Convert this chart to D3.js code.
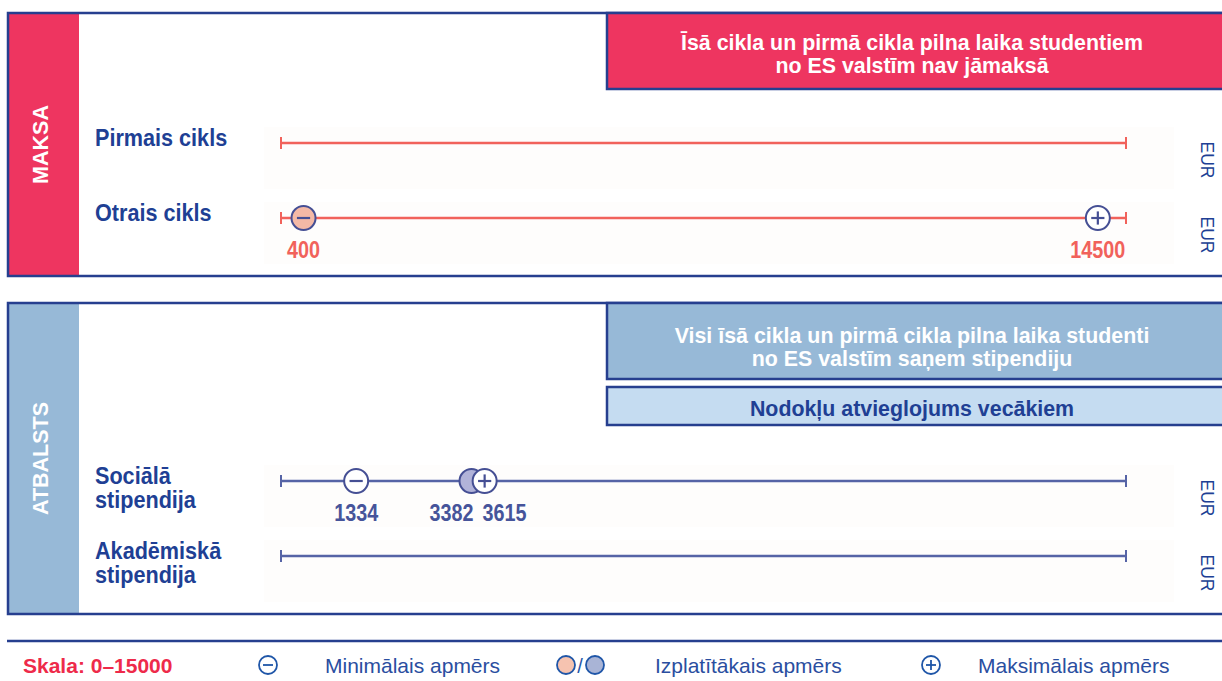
<!DOCTYPE html>
<html>
<head>
<meta charset="utf-8">
<script src="https://cdn.jsdelivr.net/npm/d3@7"></script>
<style>
    body { margin: 0; background: #fff; }
    svg { display: block; }
    .narrow { font-family: "Liberation Sans Narrow", "Arial Narrow", sans-serif; font-weight: bold; }
    .plain { font-family: "Liberation Sans", Arial, sans-serif; }
</style>
</head>
<body>
<div id="chart"></div>
<script>
/* * * * * * * * * * * * * *
*      Fees & support      *
* * * * * * * * * * * * * */

// scale of every row
const scaleDomain = [0, 15000];

// fees panel
const feeRows = ["Pirmais cikls", "Otrais cikls"];
const feeMin = [null, 400];
const feeCommon = [null, null];
const feeMax = [null, 14500];
const feeNotes = ["Īsā cikla un pirmā cikla pilna laika studentiem", "no ES valstīm nav jāmaksā"];

// support panel
const supportRows = [["Sociālā", "stipendija"], ["Akadēmiskā", "stipendija"]];
const supportMin = [1334, null];
const supportCommon = [3382, null];
const supportMax = [3615, null];
const supportNotes = ["Visi īsā cikla un pirmā cikla pilna laika studenti", "no ES valstīm saņem stipendiju"];
const taxNote = "Nodokļu atvieglojums vecākiem";

// legend
const legendItems = ["Minimālais apmērs", "Izplatītākais apmērs", "Maksimālais apmērs"];
const scaleLabel = "Skala: 0–15000";
const unit = "EUR";

const W = 1222, H = 681;
const navy = "#263f8f", textBlue = "#203f94";
const pink = "#ee3560", lightBlue = "#97b9d7", paleBlue = "#c5dcf1";
const feeLine = "#f1625b", supLine = "#5664a6", ringCol = "#454f94";

const svg = d3.select("#chart").append("svg")
    .attr("width", W)
    .attr("height", H);

const x = d3.scaleLinear().domain(scaleDomain).range([281, 1126]);

// condensed bold text (squeezed a bit horizontally)
function narrowText(g, tx, ty, txt, size, color, anchor, sx) {
    return g.append("text")
        .attr("class", "narrow")
        .attr("transform", `translate(${tx}, ${ty}) scale(${sx || 0.94}, 1)`)
        .attr("text-anchor", anchor || "start")
        .attr("font-size", size)
        .attr("fill", color)
        .text(txt);
}

// draws a marker circle with minus / plus sign
function marker(g, cx, cy, kind, fill, r) {
    r = r || 12;
    g.append("circle")
        .attr("cx", cx).attr("cy", cy).attr("r", r)
        .attr("fill", fill)
        .attr("stroke", ringCol)
        .attr("stroke-width", 2);
    if (kind === "min" || kind === "max") {
        g.append("line")
            .attr("x1", cx - r * 0.55).attr("x2", cx + r * 0.55)
            .attr("y1", cy).attr("y2", cy)
            .attr("stroke", ringCol).attr("stroke-width", 2.2);
    }
    if (kind === "max") {
        g.append("line")
            .attr("x1", cx).attr("x2", cx)
            .attr("y1", cy - r * 0.55).attr("y2", cy + r * 0.55)
            .attr("stroke", ringCol).attr("stroke-width", 2.2);
    }
}

function drawRow(g, y, color, minV, comV, maxV, numColor, minFill) {
    // faint row background
    g.append("rect")
        .attr("x", 264).attr("y", y - 16)
        .attr("width", 910).attr("height", 62)
        .attr("fill", "#fefdfc");

    g.append("line")
        .attr("x1", x(scaleDomain[0])).attr("x2", x(scaleDomain[1]))
        .attr("y1", y).attr("y2", y)
        .attr("stroke", color).attr("stroke-width", 2.5);
    scaleDomain.forEach(v => {
        g.append("line")
            .attr("x1", x(v)).attr("x2", x(v))
            .attr("y1", y - 6).attr("y2", y + 6)
            .attr("stroke", color).attr("stroke-width", 2);
    });

    if (comV != null) marker(g, x(comV), y, "common", "#b1b3d9");
    if (minV != null) marker(g, x(minV), y, "min", minFill);
    if (maxV != null) marker(g, x(maxV), y, "max", "#ffffff");

    // value labels, pushed apart when they would collide
    let labs = [minV, comV, maxV].filter(v => v != null)
        .sort((a, b) => a - b)
        .map(v => ({v: v, px: x(v), w: String(v).length * 11}));
    for (let i = 1; i < labs.length; i++) {
        let a = labs[i - 1], b = labs[i];
        let need = (a.w + b.w) / 2 + 9;
        if (b.px - a.px < need) {
            let mid = (a.px + b.px) / 2;
            a.px = mid - need / 2;
            b.px = mid + need / 2;
        }
    }
    labs.forEach(d => {
        narrowText(g, d.px, y + 40, d.v, 23, numColor, "middle", 0.86);
    });

    g.append("text")
        .attr("class", "plain")
        .attr("transform", `translate(1201, ${y + 17}) rotate(90)`)
        .attr("text-anchor", "middle")
        .attr("font-size", 17.5)
        .attr("fill", textBlue)
        .text(unit);
}

function panel(y0, h, sideColor, sideText) {
    let g = svg.append("g");
    g.append("rect")
        .attr("x", 8).attr("y", y0)
        .attr("width", 71).attr("height", h)
        .attr("fill", sideColor);
    g.append("rect")
        .attr("x", 8).attr("y", y0)
        .attr("width", 1222).attr("height", h)
        .attr("fill", "none")
        .attr("stroke", navy).attr("stroke-width", 2.5);
    g.append("text")
        .attr("class", "plain")
        .attr("transform", `translate(${48}, ${y0 + h / 2}) rotate(-90)`)
        .attr("text-anchor", "middle")
        .attr("font-size", 21.5)
        .attr("font-weight", "bold")
        .attr("fill", "#ffffff")
        .text(sideText);
    return g;
}

function noteBox(g, y0, h, fill, lines, color, baseY) {
    g.append("rect")
        .attr("x", 607).attr("y", y0)
        .attr("width", 620).attr("height", h)
        .attr("fill", fill)
        .attr("stroke", navy).attr("stroke-width", 2.5);
    lines.forEach((t, i) => {
        narrowText(g, 912, baseY + i * 23, t, 23, color, "middle", 0.93);
    });
}

// ---- fees panel
let feeG = panel(13, 263, pink, "MAKSA");
noteBox(feeG, 13, 76, pink, feeNotes, "#ffffff", 50);
let feeY = [143, 218];
feeRows.forEach((r, i) => {
    narrowText(feeG, 95, feeY[i] + 3, r, 23, textBlue);
    drawRow(feeG, feeY[i], feeLine, feeMin[i], feeCommon[i], feeMax[i], "#f1625b", "#f4b9a6");
});

// ---- support panel
let supG = panel(303, 311, lightBlue, "ATBALSTS");
noteBox(supG, 303, 76, lightBlue, supportNotes, "#ffffff", 343);
noteBox(supG, 387, 38, paleBlue, [taxNote], textBlue, 416);
let supY = [481, 556];
supportRows.forEach((r, i) => {
    drawRow(supG, supY[i], supLine, supportMin[i], supportCommon[i], supportMax[i], "#46549a", "#ffffff");
    r.forEach((t, j) => {
        narrowText(supG, 95, supY[i] + 3 + j * 24, t, 23, textBlue);
    });
});

// ---- legend
let leg = svg.append("g");
leg.append("line")
    .attr("x1", 7).attr("x2", W)
    .attr("y1", 641).attr("y2", 641)
    .attr("stroke", navy).attr("stroke-width", 2.5);

narrowText(leg, 23, 673, scaleLabel, 21, "#ee2a4a", "start", 1);

function legIcon(cx, kind, fill, stroke) {
    leg.append("circle")
        .attr("cx", cx).attr("cy", 665).attr("r", 9)
        .attr("fill", fill).attr("stroke", stroke).attr("stroke-width", 1.8);
    if (kind !== "common") {
        leg.append("line")
            .attr("x1", cx - 5).attr("x2", cx + 5).attr("y1", 665).attr("y2", 665)
            .attr("stroke", stroke).attr("stroke-width", 1.8);
    }
    if (kind === "max") {
        leg.append("line")
            .attr("x1", cx).attr("x2", cx).attr("y1", 660).attr("y2", 670)
            .attr("stroke", stroke).attr("stroke-width", 1.8);
    }
}
legIcon(268, "min", "#ffffff", "#1f56a8");
legIcon(566, "common", "#f6c3b0", "#1f56a8");
legIcon(595, "common", "#a9b4d6", "#1f56a8");
leg.append("text")
    .attr("class", "plain")
    .attr("x", 580).attr("y", 673)
    .attr("text-anchor", "middle")
    .attr("font-size", 20)
    .attr("fill", "#1f56a8")
    .text("/");
legIcon(931, "max", "#ffffff", "#1f56a8");

[325, 655, 978].forEach((lx, i) => {
    leg.append("text")
        .attr("class", "plain")
        .attr("x", lx).attr("y", 673)
        .attr("font-size", 21)
        .attr("fill", "#2a4ea0")
        .text(legendItems[i]);
});
</script>
</body>
</html>
